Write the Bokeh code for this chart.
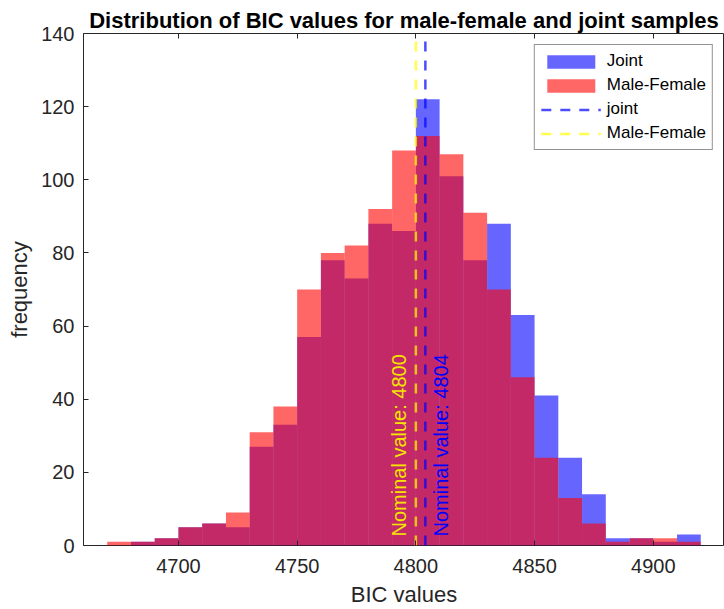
import math
from bokeh.plotting import figure
from bokeh.models import (ColumnDataSource, Range1d, LinearAxis, Label, Legend,
                          LegendItem, FixedTicker)
from bokeh.embed import file_html
from bokeh.resources import INLINE

# ---- data ----
bin_left = [4670, 4680, 4690, 4700, 4710, 4720, 4730, 4740, 4750, 4760,
            4770, 4780, 4790, 4800, 4810, 4820, 4830, 4840, 4850, 4860,
            4870, 4880, 4890, 4900, 4910]
bin_right = [4680, 4690, 4700, 4710, 4720, 4730, 4740, 4750, 4760, 4770,
             4780, 4790, 4800, 4810, 4820, 4830, 4840, 4850, 4860, 4870,
             4880, 4890, 4900, 4910, 4920]
joint_counts = [0, 1, 2, 5, 6, 5, 27, 33, 57, 78, 73, 88, 86, 122, 101, 78,
                88, 63, 41, 24, 14, 2, 2, 1, 3]
male_female_counts = [1, 1, 2, 5, 6, 9, 31, 38, 70, 80, 82, 92, 108, 112, 107,
                      91, 70, 46, 24, 13, 6, 1, 2, 2, 1]
nominal_joint = 4804
nominal_mf = 4800
x_ticks = [4700, 4750, 4800, 4850, 4900]
y_ticks = [0, 20, 40, 60, 80, 100, 120, 140]
x_limits = (4660, 4930)
y_limits = (0, 140)

src = ColumnDataSource(dict(left=bin_left, right=bin_right,
                            joint=joint_counts, mf=male_female_counts))

AX = "#262626"
FONT = "Liberation Sans"

p = figure(width=724, height=609, output_backend="svg", toolbar_location=None,
           x_range=Range1d(*x_limits), y_range=Range1d(*y_limits),
           min_border_left=83, min_border_right=0, min_border_top=33,
           min_border_bottom=64, background_fill_color="white",
           border_fill_color="white")

p.title.text = "Distribution of BIC values for male-female and joint samples"
p.title.text_font = FONT
p.title.text_font_size = "22px"
p.title.text_font_style = "bold"
p.title.text_color = "black"
p.title.align = "center"
p.title.standoff = 2

p.grid.visible = False
p.outline_line_color = AX
p.outline_line_width = 1

r_joint = p.quad(left="left", right="right", bottom=0, top="joint", source=src,
                 fill_color="#0000FF", fill_alpha=0.6, line_color=None)
r_mf = p.quad(left="left", right="right", bottom=0, top="mf", source=src,
              fill_color="#FF0000", fill_alpha=0.6, line_color=None)

r_lj = p.segment(x0=[nominal_joint], y0=[y_limits[0]], x1=[nominal_joint],
                 y1=[y_limits[1]], line_color="#0000FF", line_alpha=0.7,
                 line_width=2.5, line_dash="10 9")
r_lm = p.segment(x0=[nominal_mf], y0=[y_limits[0]], x1=[nominal_mf],
                 y1=[y_limits[1]], line_color="#FFFF00", line_alpha=0.7,
                 line_width=2.5, line_dash="10 9")

p.add_layout(Label(x=nominal_mf, y=0, x_units="data", y_units="data",
                   text="Nominal value: %d" % nominal_mf, angle=math.pi / 2,
                   text_align="left", text_baseline="middle",
                   x_offset=-17, y_offset=9, text_font=FONT,
                   text_font_size="20px", text_color="#F5E500"))
p.add_layout(Label(x=nominal_joint, y=0, x_units="data", y_units="data",
                   text="Nominal value: %d" % nominal_joint, angle=math.pi / 2,
                   text_align="left", text_baseline="middle",
                   x_offset=16, y_offset=9, text_font=FONT,
                   text_font_size="20px", text_color="#0000FF"))

def style_axis(ax, ticks):
    ax.ticker = FixedTicker(ticks=ticks)
    ax.axis_line_color = None
    ax.major_tick_line_color = AX
    ax.major_tick_in = 5
    ax.major_tick_out = 0
    ax.minor_tick_line_color = None
    ax.major_label_text_font = FONT
    ax.major_label_text_color = AX
    ax.major_label_text_font_size = "20px"
    ax.axis_label_text_font = FONT
    ax.axis_label_text_font_size = "22px"
    ax.axis_label_text_font_style = "normal"
    ax.axis_label_text_color = AX

for ax in p.xaxis:
    style_axis(ax, x_ticks)
    ax.major_label_standoff = 13
    ax.axis_label = "BIC values"
    ax.axis_label_standoff = 6
for ax in p.yaxis:
    style_axis(ax, y_ticks)
    ax.major_label_standoff = 9
    ax.axis_label = "frequency"
    ax.axis_label_standoff = 6

# mirrored tick marks along the top edge of the box (no labels)
top_ax = LinearAxis(ticker=FixedTicker(ticks=x_ticks))
top_ax.axis_line_color = None
top_ax.major_tick_line_color = AX
top_ax.major_tick_in = 5
top_ax.major_tick_out = 0
top_ax.minor_tick_line_color = None
top_ax.major_label_text_color = None
top_ax.major_label_text_font_size = "1px"
top_ax.major_label_standoff = 0
p.add_layout(top_ax, "above")

legend = Legend(items=[
    LegendItem(label="Joint", renderers=[r_joint]),
    LegendItem(label="Male-Female", renderers=[r_mf]),
    LegendItem(label="joint", renderers=[r_lj]),
    LegendItem(label="Male-Female", renderers=[r_lm]),
], location="top_right")
legend.margin = 11
legend.padding = 6
legend.spacing = 4
legend.glyph_width = 60
legend.glyph_height = 17
legend.label_height = 20
legend.label_standoff = 6
legend.label_text_font = FONT
legend.label_text_font_size = "17px"
legend.label_text_color = "black"
legend.border_line_color = AX
legend.border_line_width = 1
legend.background_fill_color = "white"
legend.background_fill_alpha = 1
p.add_layout(legend, "center")

open("out.html", "w").write(file_html(p, INLINE))
